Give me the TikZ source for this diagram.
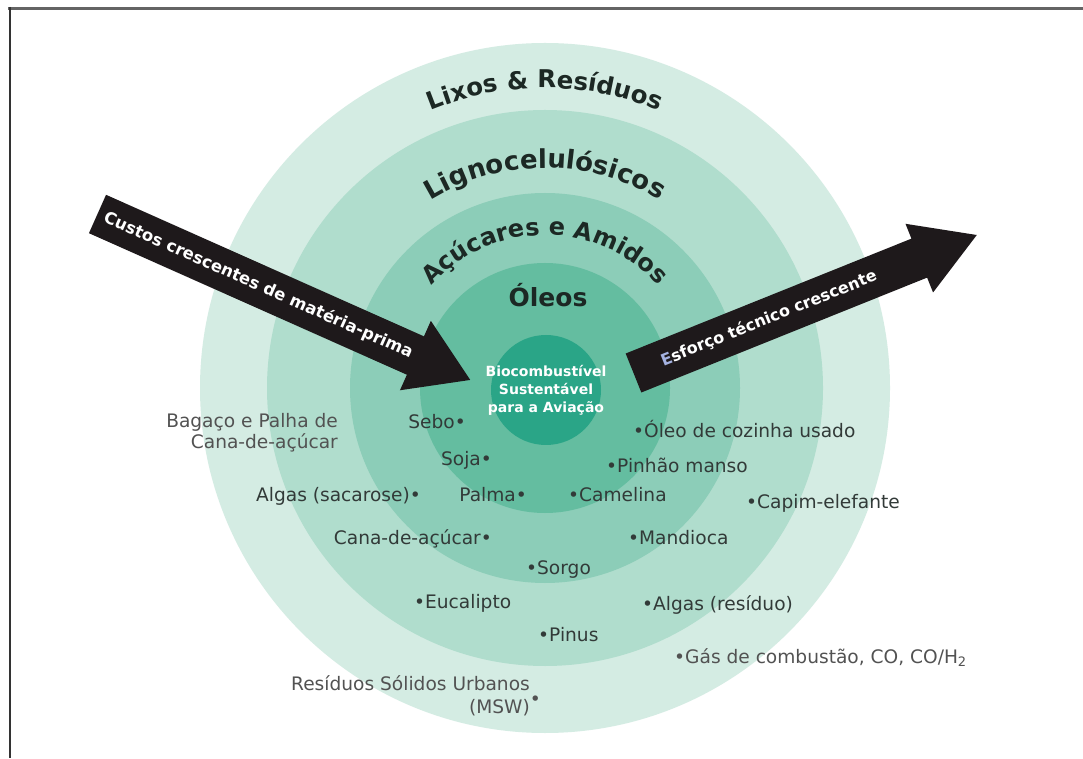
\documentclass[tikz,border=0pt]{standalone}
\usepackage{fontspec}
\setmainfont{DejaVu Sans}
\usetikzlibrary{decorations.text,calc}
\definecolor{ringA}{RGB}{212,236,227}
\definecolor{ringB}{RGB}{176,221,205}
\definecolor{ringC}{RGB}{140,205,184}
\definecolor{ringD}{RGB}{100,189,160}
\definecolor{core}{RGB}{42,165,135}
\definecolor{headtxt}{RGB}{28,40,36}
\definecolor{lbl}{RGB}{50,58,56}
\definecolor{lblout}{RGB}{82,82,82}
\definecolor{arrowblk}{RGB}{30,25,27}
\definecolor{eblue}{RGB}{165,178,225}
\definecolor{frameg}{RGB}{100,100,100}
\begin{document}
\begin{tikzpicture}[x=1pt,y=1pt,
  lab/.style={font=\fontsize{18.6}{21}\selectfont, text=lbl, inner sep=0pt},
  labw/.style={lab, anchor=base west},
  labe/.style={lab, anchor=base east},
  arrtext/.style={font=\bfseries\fontsize{16}{19}\selectfont, text=white, inner sep=0pt, transform shape},
  bigarrow/.style={fill=arrowblk}]
\useasboundingbox (0,0) rectangle (1083,758);
\fill[white] (0,0) rectangle (1083,758);
\coordinate (C) at (545,370);
\fill[ringA] (C) circle[radius=345];
\fill[ringB] (C) circle[radius=278];
\fill[ringC] (C) circle[radius=195];
\fill[ringD] (C) circle[radius=125];
\fill[core] (546,368) circle[radius=55];
% frame
\draw[frameg, line width=3pt] (8,749.5) -- (1083,749.5);
\draw[black!80, line width=2pt] (9.5,751) -- (9.5,0);
% curved ring titles
\path[decorate, decoration={text along path, text align=center,
  text={|\color{headtxt}\bfseries\fontsize{24.5}{28}\selectfont|Lixos {\&} Resíduos}}]
  ($(C)+(160:300)$) arc[start angle=160, end angle=20, radius=300];
\path[decorate, decoration={text along path, text align=center,
  text={|\color{headtxt}\bfseries\fontsize{26}{30}\selectfont|Lignocelulósicos}}]
  ($(C)+(170:220)$) arc[start angle=170, end angle=10, radius=220];
\path[decorate, decoration={text along path, text align=center,
  text={|\color{headtxt}\bfseries\fontsize{24}{28}\selectfont|Açúcares e Amidos}}]
  ($(C)+(175:153)$) arc[start angle=175, end angle=5, radius=153];
\node[font=\bfseries\fontsize{25}{29}\selectfont, text=headtxt] (oleos) at (548,463) {Óleos};
\node[align=center, text=white, font=\bfseries\fontsize{14}{18}\selectfont] (corec) at (546,368) {Biocombustível\\Sustentável\\para a Aviação};
% arrows
\begin{scope}[shift={(97.5,544)}, rotate=-24]
  \fill[bigarrow] (0,21) -- (348,21) -- (348,38) -- (408,0) -- (348,-38) -- (348,-21) -- (0,-21) -- cycle;
  \node[arrtext, font=\bfseries\fontsize{16.5}{19}\selectfont] (custos) at (176,0) {Custos crescentes de matéria-prima};
\end{scope}
\begin{scope}[shift={(633.5,385)}, rotate=21.9]
  \fill[bigarrow] (0,21) -- (308,21) -- (308,37) -- (370,0) -- (308,-37) -- (308,-21) -- (0,-21) -- cycle;
  \node[arrtext] (esforco) at (146,0) {{\color{eblue}E}sforço técnico crescente};
\end{scope}
% labels
\node[labw] (oleo) at (633,320) {•Óleo de cozinha usado};
\node[labw] (pinhao) at (606,286) {•Pinhão manso};
\node[labw] (camelina) at (568,257) {•Camelina};
\node[labw] (capim) at (746,250) {•Capim-elefante};
\node[labw] (mandioca) at (628,214) {•Mandioca};
\node[labw] (sorgo) at (526,184) {•Sorgo};
\node[labw] (eucalipto) at (414,150) {•Eucalipto};
\node[labw] (pinus) at (538,117) {•Pinus};
\node[labw] (algasr) at (642,148) {•Algas (resíduo)};
\node[labw, text=lblout] (gas) at (674,95) {•Gás de combustão, CO, CO/H\textsubscript{2}};
\node[labe] (sebo) at (466,329) {Sebo•};
\node[labe] (soja) at (492,292) {Soja•};
\node[labe] (algass) at (421,257) {Algas (sacarose)•};
\node[labe] (palma) at (527,257) {Palma•};
\node[labe] (cana) at (492,214) {Cana-de-açúcar•};
\node[lab, text=lblout, align=right, anchor=east] (bagaco) at (338,325.5) {Bagaço e Palha de\\Cana-de-açúcar};
\node[lab, text=lblout, align=right, anchor=east, font=\fontsize{18.6}{23}\selectfont] (rsu) at (530,62) {Resíduos Sólidos Urbanos\\(MSW)\rlap{\raisebox{8pt}{•}}};
\end{tikzpicture}
\end{document}
